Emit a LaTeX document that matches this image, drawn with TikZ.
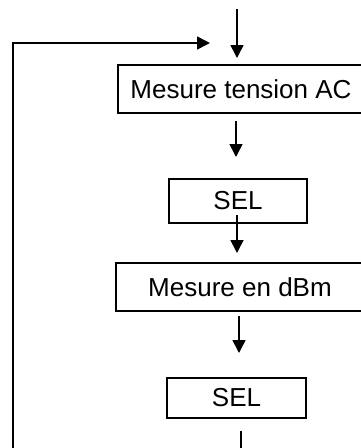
\documentclass[tikz,border=0pt]{standalone}
\usepackage{fontspec}
\setmainfont{Liberation Sans}
\usetikzlibrary{arrows.meta}
\begin{document}
\begin{tikzpicture}[x=1pt,y=-1pt,
  lbl/.style={font=\fontsize{26}{29}\selectfont},
  box/.style={draw,line width=1.4pt,inner sep=0pt,lbl},
  conn/.style={line width=1.6pt,-{Triangle[width=13pt,length=13pt]}},
  plain/.style={line width=1.6pt}]
\useasboundingbox (0,0) rectangle (361,448);
\clip (0,0) rectangle (361,448);
% boxes (right edges cut by the frame)
\draw[box] (118,65) rectangle (372,113);
\node[lbl] (m1) at (241,89) {Mesure tension AC};
\node[box,minimum width=138pt,minimum height=44pt] (s1) at (238,201) {SEL};
\draw[box] (116,263) rectangle (372,311);
\node[lbl] (m2) at (240,287) {Mesure en dBm};
\node[box,minimum width=139pt,minimum height=40pt] (s2) at (236.5,398) {SEL};
% coordinates
\coordinate (top) at (237,9);
\coordinate (t1) at (237,58);
\coordinate (a2s) at (236,121);
\coordinate (a2e) at (236,157);
\coordinate (a3s) at (237,215);
\coordinate (a3e) at (237,253);
\coordinate (a4s) at (239,316);
\coordinate (a4e) at (239,353);
\coordinate (ends) at (241,431);
\coordinate (ende) at (241,449);
\coordinate (lb) at (13,449);
\coordinate (lt) at (13,43);
\coordinate (fb) at (210,43);
% connectors
\draw[conn] (top) -- (t1);
\draw[conn] (a2s) -- (a2e);
\draw[conn] (a3s) -- (a3e);
\draw[conn] (a4s) -- (a4e);
\draw[plain] (ends) -- (ende);
\draw[conn] (lb) -- (lt) -- (fb);
\end{tikzpicture}
\end{document}
